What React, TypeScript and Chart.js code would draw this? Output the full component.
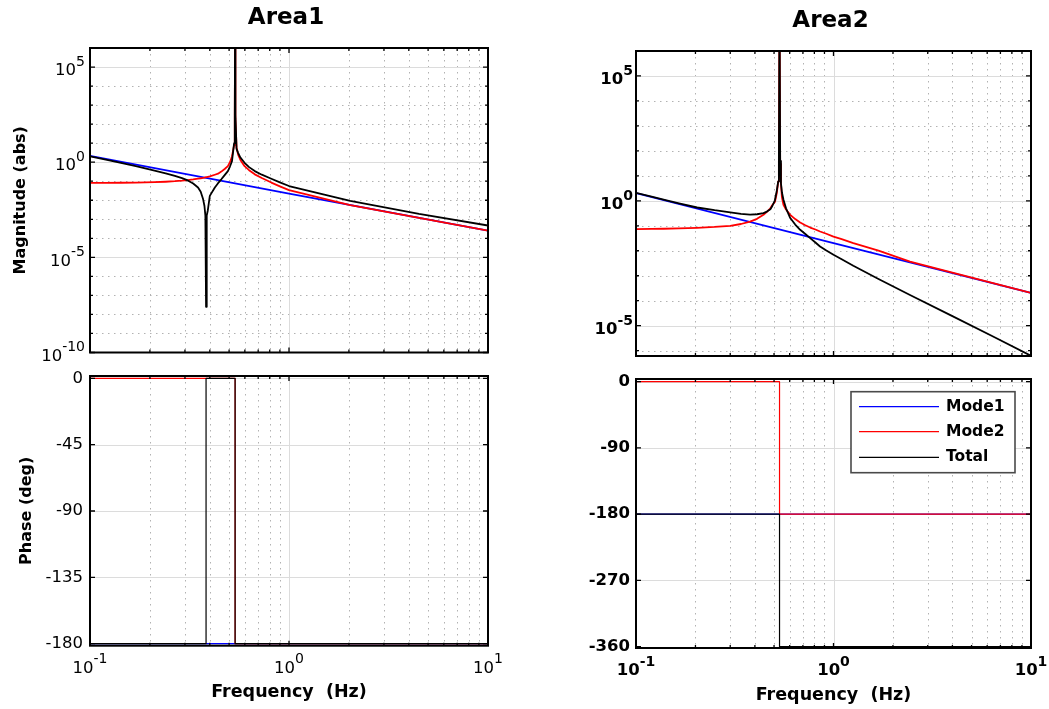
import React, { useEffect, useRef } from "react";
import { Chart, registerables } from "chart.js";

Chart.register(...registerables);

const W = 1049;
const H = 709;
const FONT = '"DejaVu Sans", "Liberation Sans", Arial, sans-serif';
const MAJOR_GRID = "#dcdcdc";
const MINOR_GRID = "#b2b2b2";

// ---------------- data ----------------
const freqTicks = [0.1, 1, 10];
const magTicksArea1 = [1e5, 1, 1e-5, 1e-10];
const magTicksArea2 = [1e5, 1, 1e-5];
const phaseTicksArea1 = [0, -45, -90, -135, -180];
const phaseTicksArea2 = [0, -90, -180, -270, -360];
const seriesNames = ["Mode1", "Mode2", "Total"];
const seriesColors = ["#0000ff", "#ff0000", "#000000"];

// Area1 magnitude
const area1Mode1Freq = [0.1, 1, 10];
const area1Mode1Mag = [2.14, 0.0224, 2.5e-4];
const area1Freq = [
  0.1, 0.12, 0.143, 0.17, 0.211, 0.24, 0.267, 0.29, 0.31, 0.33, 0.349, 0.36, 0.37, 0.376, 0.38,
  0.383, 0.386, 0.391, 0.4, 0.424, 0.44, 0.457, 0.475, 0.493, 0.505, 0.517, 0.53, 0.534, 0.536,
  0.538, 0.545, 0.555, 0.57, 0.598, 0.63, 0.673, 0.73, 0.815, 0.9, 1.0, 2.03, 4.5, 10,
];
const area1Mode2Mag = [
  0.081, 0.082, 0.083, 0.085, 0.089, 0.094, 0.1, 0.107, 0.115, 0.125, 0.138, 0.143, 0.15, 0.155, 0.16,
  0.163, 0.166, 0.17, 0.178, 0.219, 0.25, 0.32, 0.44, 0.62, 1.0, 2.0, 8, 200, 1e8,
  200, 6, 2.5, 1.3, 0.62, 0.38, 0.23, 0.148, 0.085, 0.054, 0.034, 0.0055, 0.00117, 2.55e-4,
];
const area1TotalMag = [
  2.04, 1.38, 0.93, 0.63, 0.36, 0.26, 0.19, 0.145, 0.11, 0.076, 0.047, 0.028, 0.0115, 0.005, 1.55e-3,
  2.5e-8, 1.55e-3, 0.003, 0.017, 0.047, 0.079, 0.126, 0.21, 0.34, 0.59, 1.12, 10, 300, 1e8,
  300, 5, 3.1, 1.75, 0.93, 0.55, 0.34, 0.22, 0.135, 0.087, 0.056, 0.0093, 0.0019, 4.7e-4,
];

// Area1 phase
const area1PhaseMode1Freq = [0.1, 10];
const area1PhaseMode1 = [-180, -180];
const area1PhaseMode2Freq = [0.1, 0.536, 0.536, 10];
const area1PhaseMode2 = [0, 0, -180, -180];
const area1PhaseTotalFreq = [0.1, 0.383, 0.383, 0.536, 0.536, 10];
const area1PhaseTotal = [-180, -180, 0, 0, -180, -180];

// Area2 magnitude
const area2Mode1Freq = [0.1, 1, 10];
const area2Mode1Mag = [2.04, 0.0204, 2.04e-4];
const area2Freq = [
  0.1, 0.12, 0.138, 0.165, 0.204, 0.25, 0.3, 0.34, 0.378, 0.41, 0.442, 0.46, 0.479, 0.49, 0.505,
  0.516, 0.525, 0.529, 0.533, 0.537, 0.542, 0.548, 0.558, 0.575, 0.604, 0.64, 0.678, 0.72, 0.762,
  0.81, 0.855, 0.92, 1.0, 1.1, 1.26, 1.69, 2.44, 4.0, 6.5, 10,
];
const area2Mode2Mag = [
  0.074, 0.075, 0.076, 0.079, 0.083, 0.09, 0.1, 0.118, 0.148, 0.19, 0.275, 0.36, 0.5, 0.68, 0.9,
  2.0, 6, 30, 1e8, 30, 5, 1.4, 0.69, 0.45, 0.275, 0.186, 0.135, 0.105, 0.085,
  0.071, 0.059, 0.048, 0.037, 0.029, 0.0204, 0.0102, 0.0037, 0.00132, 4.9e-4, 2.05e-4,
];
const area2TotalMag = [
  2.09, 1.46, 1.12, 0.79, 0.54, 0.42, 0.347, 0.3, 0.28, 0.29, 0.32, 0.37, 0.46, 0.62, 1.05,
  2.5, 6, 40, 1e8, 40, 5, 2.2, 1.1, 0.5, 0.204, 0.112, 0.069, 0.047, 0.032,
  0.0215, 0.0148, 0.0102, 0.0069, 0.0046, 0.0025, 7.4e-4, 1.7e-4, 2.4e-5, 3.5e-6, 6.2e-7,
];

// Area2 phase
const area2PhaseMode1Freq = [0.1, 10];
const area2PhaseMode1 = [-180, -180];
const area2PhaseMode2Freq = [0.1, 0.533, 0.533, 10];
const area2PhaseMode2 = [0, 0, -180, -180];
const area2PhaseTotalFreq = [0.1, 0.533, 0.533, 10];
const area2PhaseTotal = [-180, -180, -360, -360];

// ---------------- types ----------------
type Series = { freq: number[]; vals: number[]; color: string; width: number };
type PanelCfg = {
  key: string;
  rect: { l: number; t: number; r: number; b: number };
  yLog: boolean;
  yMin: number;
  yMax: number;
  yTicks: number[];
  series: Series[];
  bold: boolean;
  title?: string;
  yTitle?: string;
  yTitleOffset?: number;
  xTitle?: string;
  xTitleOffset?: number;
  xLabels: boolean;
  legend: boolean;
  labelGap: number;
};

const MAG_W = 1.8;
const PH_W = 1.2;

const panels: PanelCfg[] = [
  {
    key: "a1m",
    rect: { l: 90, t: 48, r: 488, b: 352.5 },
    yLog: true,
    yMin: 1e-10,
    yMax: 1e6,
    yTicks: magTicksArea1,
    series: [
      { freq: area1Mode1Freq, vals: area1Mode1Mag, color: seriesColors[0], width: MAG_W },
      { freq: area1Freq, vals: area1Mode2Mag, color: seriesColors[1], width: MAG_W },
      { freq: area1Freq, vals: area1TotalMag, color: seriesColors[2], width: MAG_W },
    ],
    bold: false,
    title: "Area1",
    yTitle: "Magnitude (abs)",
    yTitleOffset: 10.9,
    xLabels: false,
    legend: false,
    labelGap: 5,
  },
  {
    key: "a1p",
    rect: { l: 90, t: 376, r: 488, b: 645.7 },
    yLog: false,
    yMin: -181.4,
    yMax: 1.6,
    yTicks: phaseTicksArea1,
    series: [
      { freq: area1PhaseMode1Freq, vals: area1PhaseMode1, color: seriesColors[0], width: PH_W },
      { freq: area1PhaseMode2Freq, vals: area1PhaseMode2, color: seriesColors[1], width: PH_W },
      { freq: area1PhaseTotalFreq, vals: area1PhaseTotal, color: seriesColors[2], width: PH_W },
    ],
    bold: false,
    yTitle: "Phase (deg)",
    yTitleOffset: 17.4,
    xTitle: "Frequency  (Hz)",
    xTitleOffset: 6.5,
    xLabels: true,
    legend: false,
    labelGap: 7,
  },
  {
    key: "a2m",
    rect: { l: 636, t: 51, r: 1031, b: 356 },
    yLog: true,
    yMin: 6.1e-7,
    yMax: 1e6,
    yTicks: magTicksArea2,
    series: [
      { freq: area2Mode1Freq, vals: area2Mode1Mag, color: seriesColors[0], width: MAG_W },
      { freq: area2Freq, vals: area2Mode2Mag, color: seriesColors[1], width: MAG_W },
      { freq: area2Freq, vals: area2TotalMag, color: seriesColors[2], width: MAG_W },
    ],
    bold: true,
    title: "Area2",
    xLabels: false,
    legend: false,
    labelGap: 3,
  },
  {
    key: "a2p",
    rect: { l: 636, t: 379, r: 1031, b: 648 },
    yLog: false,
    yMin: -361.8,
    yMax: 3.7,
    yTicks: phaseTicksArea2,
    series: [
      { freq: area2PhaseMode1Freq, vals: area2PhaseMode1, color: seriesColors[0], width: PH_W },
      { freq: area2PhaseMode2Freq, vals: area2PhaseMode2, color: seriesColors[1], width: PH_W },
      { freq: area2PhaseTotalFreq, vals: area2PhaseTotal, color: seriesColors[2], width: PH_W },
    ],
    bold: true,
    xTitle: "Frequency  (Hz)",
    xTitleOffset: 3.5,
    xLabels: true,
    legend: true,
    labelGap: 6,
  },
];

// ---------------- helpers ----------------
function logMinor(min: number, max: number): number[] {
  const out: number[] = [];
  const e0 = Math.floor(Math.log10(min) - 1e-9);
  const e1 = Math.ceil(Math.log10(max) + 1e-9);
  for (let e = e0; e <= e1; e++) {
    for (let m = 2; m <= 9; m++) {
      const v = m * Math.pow(10, e);
      if (v > min * 1.0001 && v < max * 0.9999) out.push(v);
    }
  }
  return out;
}

function logDecadeExps(min: number, max: number): number[] {
  const out: number[] = [];
  const e0 = Math.ceil(Math.log10(min) - 1e-9);
  const e1 = Math.floor(Math.log10(max) + 1e-9);
  for (let e = e0; e <= e1; e++) out.push(e);
  return out;
}

function drawPow(
  ctx: CanvasRenderingContext2D,
  x: number,
  yBase: number,
  ySup: number,
  exp: number,
  align: "right" | "center",
  bold: boolean
) {
  const wt = bold ? "bold " : "";
  const baseFont = `${wt}16.5px ${FONT}`;
  const supFont = `${wt}14px ${FONT}`;
  const sup = String(exp);
  ctx.font = baseFont;
  const wb = ctx.measureText("10").width;
  ctx.font = supFont;
  const ws = ctx.measureText(sup).width;
  const total = wb + ws;
  const x0 = align === "right" ? x - total : x - total / 2;
  ctx.fillStyle = "#000";
  ctx.textAlign = "left";
  ctx.textBaseline = "middle";
  ctx.font = baseFont;
  ctx.fillText("10", x0, yBase);
  ctx.font = supFont;
  ctx.fillText(sup, x0 + wb, ySup);
}

function makeBodePlugin(cfg: PanelCfg) {
  return {
    id: "bode_" + cfg.key,
    beforeDatasetsDraw(chart: any) {
      const { ctx, chartArea: a } = chart;
      const xs = chart.scales.x;
      const ys = chart.scales.y;
      ctx.save();
      ctx.fillStyle = "#fff";
      ctx.fillRect(a.left, a.top, a.right - a.left, a.bottom - a.top);
      ctx.beginPath();
      ctx.rect(a.left, a.top, a.right - a.left, a.bottom - a.top);
      ctx.clip();
      ctx.lineWidth = 1;
      // minor dotted grid
      ctx.strokeStyle = MINOR_GRID;
      ctx.setLineDash([1.5, 4.5]);
      for (const v of logMinor(xs.min, xs.max)) {
        const px = Math.round(xs.getPixelForValue(v)) + 0.5;
        ctx.beginPath();
        ctx.moveTo(px, a.top);
        ctx.lineTo(px, a.bottom);
        ctx.stroke();
      }
      if (cfg.yLog) {
        const majors = cfg.yTicks.map((v) => Math.round(Math.log10(v)));
        for (const e of logDecadeExps(ys.min, ys.max)) {
          if (majors.includes(e)) continue;
          const py = Math.round(ys.getPixelForValue(Math.pow(10, e))) + 0.5;
          ctx.beginPath();
          ctx.moveTo(a.left, py);
          ctx.lineTo(a.right, py);
          ctx.stroke();
        }
      }
      // major solid grid
      ctx.setLineDash([]);
      ctx.strokeStyle = MAJOR_GRID;
      for (const v of freqTicks) {
        const px = Math.round(xs.getPixelForValue(v)) + 0.5;
        ctx.beginPath();
        ctx.moveTo(px, a.top);
        ctx.lineTo(px, a.bottom);
        ctx.stroke();
      }
      for (const v of cfg.yTicks) {
        const py = Math.round(ys.getPixelForValue(v)) + 0.5;
        ctx.beginPath();
        ctx.moveTo(a.left, py);
        ctx.lineTo(a.right, py);
        ctx.stroke();
      }
      ctx.restore();
    },
    afterDatasetsDraw(chart: any) {
      const { ctx, chartArea: a } = chart;
      const xs = chart.scales.x;
      const ys = chart.scales.y;
      ctx.save();
      ctx.strokeStyle = "#000";
      ctx.lineWidth = 1.3;
      const MAJ = 5;
      const MIN = 3;
      const vt = (px: number, len: number) => {
        ctx.beginPath();
        ctx.moveTo(px, a.bottom);
        ctx.lineTo(px, a.bottom - len);
        ctx.moveTo(px, a.top);
        ctx.lineTo(px, a.top + len);
        ctx.stroke();
      };
      const ht = (py: number, len: number) => {
        ctx.beginPath();
        ctx.moveTo(a.left, py);
        ctx.lineTo(a.left + len, py);
        ctx.moveTo(a.right, py);
        ctx.lineTo(a.right - len, py);
        ctx.stroke();
      };
      for (const v of freqTicks) vt(xs.getPixelForValue(v), MAJ);
      for (const v of logMinor(xs.min, xs.max)) vt(xs.getPixelForValue(v), MIN);
      for (const v of cfg.yTicks) ht(ys.getPixelForValue(v), MAJ);
      if (cfg.yLog) {
        const majors = cfg.yTicks.map((v) => Math.round(Math.log10(v)));
        for (const e of logDecadeExps(ys.min, ys.max)) {
          if (!majors.includes(e)) ht(ys.getPixelForValue(Math.pow(10, e)), MIN);
        }
      }
      // frame
      ctx.lineWidth = 2;
      ctx.strokeRect(a.left, a.top, a.right - a.left, a.bottom - a.top);
      ctx.restore();
    },
    afterDraw(chart: any) {
      const { ctx, chartArea: a } = chart;
      const xs = chart.scales.x;
      const ys = chart.scales.y;
      ctx.save();
      if (cfg.yLog) {
        for (const v of cfg.yTicks) {
          const py = ys.getPixelForValue(v);
          drawPow(ctx, a.left - cfg.labelGap, py + 4, py - 4.7, Math.round(Math.log10(v)), "right", cfg.bold);
        }
      }
      if (cfg.xLabels) {
        for (const v of freqTicks) {
          const px = xs.getPixelForValue(v);
          drawPow(ctx, px, a.bottom + 23, a.bottom + 14, Math.round(Math.log10(v)), "center", cfg.bold);
        }
      }
      if (cfg.title) {
        ctx.fillStyle = "#000";
        ctx.font = `bold 23px ${FONT}`;
        ctx.textAlign = "center";
        ctx.textBaseline = "middle";
        ctx.fillText(cfg.title, (a.left + a.right) / 2 - 3, a.top - 29.5);
      }
      if (cfg.legend) {
        const bx = a.left + 215;
        const by = a.top + 12.7;
        const bw = 164;
        const bh = 81;
        ctx.fillStyle = "#fff";
        ctx.fillRect(bx, by, bw, bh);
        ctx.strokeStyle = "#4a4a4a";
        ctx.lineWidth = 1.6;
        ctx.strokeRect(bx, by, bw, bh);
        const rows = [15, 40, 65.6];
        seriesNames.forEach((name, i) => {
          const y = by + rows[i];
          ctx.strokeStyle = seriesColors[i];
          ctx.lineWidth = 1.3;
          ctx.beginPath();
          ctx.moveTo(bx + 8, y);
          ctx.lineTo(bx + 88, y);
          ctx.stroke();
          ctx.fillStyle = "#000";
          ctx.font = `bold 15.5px ${FONT}`;
          ctx.textAlign = "left";
          ctx.textBaseline = "middle";
          ctx.fillText(name, bx + 95, y);
        });
      }
      ctx.restore();
    },
  };
}

function makeChart(canvas: HTMLCanvasElement, cfg: PanelCfg) {
  const datasets = cfg.series
    .slice()
    .reverse()
    .map((s) => ({
      data: s.freq.map((f, i) => ({ x: f, y: s.vals[i] })),
      borderColor: s.color,
      backgroundColor: s.color,
      borderWidth: s.width,
      borderJoinStyle: "round" as const,
      pointRadius: 0,
      pointHoverRadius: 0,
      fill: false,
      tension: 0,
    }));

  const titleFontY = { family: FONT, size: 16, weight: "bold" as const };
  const titleFontX = { family: FONT, size: 17.5, weight: "bold" as const };

  const yTitle = cfg.yTitle
    ? {
        display: true,
        text: cfg.yTitle,
        color: "#000",
        font: titleFontY,
        padding: { top: cfg.yTitleOffset ?? 0, bottom: 0 },
      }
    : { display: false };

  const yScale: any = cfg.yLog
    ? {
        type: "logarithmic",
        min: cfg.yMin,
        max: cfg.yMax,
        grid: { display: false, drawTicks: false },
        border: { display: false },
        ticks: { display: false },
        title: yTitle,
        afterFit: (s: any) => {
          s.width = cfg.rect.l;
        },
      }
    : {
        type: "linear",
        min: cfg.yMin,
        max: cfg.yMax,
        grid: { display: false, drawTicks: false },
        border: { display: false },
        afterBuildTicks: (s: any) => {
          s.ticks = cfg.yTicks.map((v) => ({ value: v }));
        },
        ticks: {
          color: "#000",
          padding: cfg.labelGap,
          autoSkip: false,
          font: { family: FONT, size: 16.5, weight: cfg.bold ? "bold" : "normal" },
          callback: (v: any) => String(v),
        },
        title: yTitle,
        afterFit: (s: any) => {
          s.width = cfg.rect.l;
        },
      };

  return new Chart(canvas, {
    type: "line",
    data: { datasets },
    plugins: [makeBodePlugin(cfg)],
    options: {
      animation: false,
      responsive: false,
      devicePixelRatio: 1,
      events: [],
      parsing: true,
      layout: { padding: { left: 0, top: cfg.rect.t, right: W - cfg.rect.r, bottom: 0 } },
      plugins: {
        legend: { display: false },
        tooltip: { enabled: false },
        title: { display: false },
      },
      scales: {
        x: {
          type: "logarithmic",
          min: 0.1,
          max: 10,
          grid: { display: false, drawTicks: false },
          border: { display: false },
          ticks: { display: false },
          title: cfg.xTitle
            ? {
                display: true,
                text: cfg.xTitle,
                color: "#000",
                font: titleFontX,
                padding: { top: 0, bottom: cfg.xTitleOffset ?? 0 },
              }
            : { display: false },
          afterFit: (s: any) => {
            s.height = H - cfg.rect.b;
          },
        },
        y: yScale,
      },
    } as any,
  });
}

function Panel({ cfg }: { cfg: PanelCfg }) {
  const ref = useRef<HTMLCanvasElement>(null);
  useEffect(() => {
    if (!ref.current) return;
    const chart = makeChart(ref.current, cfg);
    return () => chart.destroy();
  }, [cfg]);
  return (
    <canvas
      ref={ref}
      width={W}
      height={H}
      style={{ position: "absolute", left: 0, top: 0, width: W, height: H }}
    />
  );
}

export default function App() {
  return (
    <div
      style={{
        position: "absolute",
        left: 0,
        top: 0,
        width: W,
        height: H,
        background: "#fff",
        overflow: "hidden",
      }}
    >
      {panels.map((p) => (
        <Panel key={p.key} cfg={p} />
      ))}
    </div>
  );
}
